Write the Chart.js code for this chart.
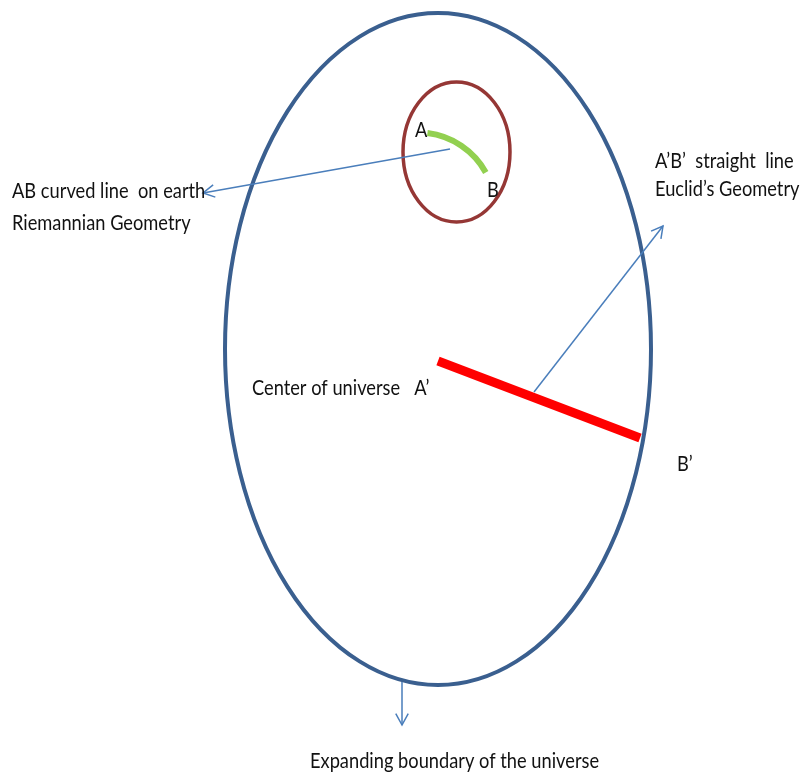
<!DOCTYPE html>
<html>
<head>
<meta charset="utf-8">
<script src="https://cdn.jsdelivr.net/npm/chart.js@4/dist/chart.umd.min.js"></script>
<style>
  html, body { margin: 0; padding: 0; background: #fff; }
  canvas { display: block; }
</style>
</head>
<body>
<canvas id="diagram" width="803" height="780"></canvas>
<script>
// ellipses: [cx, cy, rx, ry]
const universeEllipse = [438, 349, 213, 336];
const earthCircle = [456.5, 152, 53.5, 70];

// green arc AB on earth: [cx, cy, r, startDeg, endDeg]
const earthArc = [418, 210, 77.5, -83, -29];

// straight line A'B'
const lineAB = [{ x: 438, y: 361 }, { x: 640, y: 438 }];

// arrows (tail -> tip)
const arrowRiemann = [{ x: 450, y: 149 }, { x: 203, y: 193 }];
const arrowEuclid = [{ x: 534, y: 392 }, { x: 663, y: 226 }];
const arrowExpand = [{ x: 402, y: 682 }, { x: 402, y: 725 }];

// labels: [text, x, baseline y]
const labelTexts = ["A", "B", "AB curved line  on earth", "Riemannian Geometry",
    "A\u2019B\u2019  straight  line", "Euclid\u2019s Geometry", "Center of universe   A\u2019",
    "B\u2019", "Expanding boundary of the universe"];
const labelX = [415, 487, 12, 12, 655, 655, 252, 677, 310];
const labelY = [137, 197, 198, 230, 168, 196, 395, 471, 768];

const shapesPlugin = {
    id: "shapes",
    beforeDatasetsDraw(chart) {
        const ctx = chart.ctx;
        const xs = chart.scales.x, ys = chart.scales.y;

        function ellipse(e, color, width) {
            const cx = xs.getPixelForValue(e[0]);
            const cy = ys.getPixelForValue(e[1]);
            const rx = Math.abs(xs.getPixelForValue(e[0] + e[2]) - cx);
            const ry = Math.abs(ys.getPixelForValue(e[1] + e[3]) - cy);
            ctx.beginPath();
            ctx.ellipse(cx, cy, rx, ry, 0, 0, Math.PI * 2);
            ctx.strokeStyle = color;
            ctx.lineWidth = width;
            ctx.stroke();
        }

        ctx.save();
        ellipse(universeEllipse, "#3a5f8f", 4);
        ellipse(earthCircle, "#953735", 3.5);

        // arc AB
        const acx = xs.getPixelForValue(earthArc[0]);
        const acy = ys.getPixelForValue(earthArc[1]);
        const ar = Math.abs(xs.getPixelForValue(earthArc[0] + earthArc[2]) - acx);
        ctx.beginPath();
        ctx.arc(acx, acy, ar, earthArc[3] * Math.PI / 180, earthArc[4] * Math.PI / 180, false);
        ctx.strokeStyle = "#92d050";
        ctx.lineWidth = 6;
        ctx.lineCap = "butt";
        ctx.stroke();
        ctx.restore();
    },
    afterDatasetsDraw(chart) {
        const ctx = chart.ctx;
        const xs = chart.scales.x, ys = chart.scales.y;
        ctx.save();
        chart.data.datasets.forEach((ds) => {
            if (!ds.arrow) return;
            const p0 = ds.data[ds.data.length - 2], p1 = ds.data[ds.data.length - 1];
            const x0 = xs.getPixelForValue(p0.x), y0 = ys.getPixelForValue(p0.y);
            const x1 = xs.getPixelForValue(p1.x), y1 = ys.getPixelForValue(p1.y);
            const a = Math.atan2(y1 - y0, x1 - x0);
            const len = 13, spread = 0.5;
            ctx.beginPath();
            ctx.moveTo(x1 - len * Math.cos(a - spread), y1 - len * Math.sin(a - spread));
            ctx.lineTo(x1, y1);
            ctx.lineTo(x1 - len * Math.cos(a + spread), y1 - len * Math.sin(a + spread));
            ctx.strokeStyle = ds.borderColor;
            ctx.lineWidth = ds.borderWidth;
            ctx.lineJoin = "miter";
            ctx.stroke();
        });
        ctx.restore();
    },
    afterDraw(chart) {
        const ctx = chart.ctx;
        const xs = chart.scales.x, ys = chart.scales.y;
        ctx.save();
        ctx.fillStyle = "#111";
        ctx.font = "22px Lato";
        ctx.textBaseline = "alphabetic";
        labelTexts.forEach((t, i) => {
            ctx.save();
            ctx.translate(xs.getPixelForValue(labelX[i]), ys.getPixelForValue(labelY[i]));
            ctx.scale(0.83, 1);
            ctx.fillText(t, 0, 0);
            ctx.restore();
        });
        ctx.restore();
    }
};

const lineStyle = { showLine: true, pointRadius: 0, pointHoverRadius: 0, fill: false };

new Chart(document.getElementById("diagram").getContext("2d"), {
    type: "scatter",
    data: {
        datasets: [
            { ...lineStyle, data: lineAB, borderColor: "#ff0000", borderWidth: 9, borderCapStyle: "butt" },
            { ...lineStyle, data: arrowRiemann, borderColor: "#4a7ebb", borderWidth: 1.5, arrow: true },
            { ...lineStyle, data: arrowEuclid, borderColor: "#4a7ebb", borderWidth: 1.5, arrow: true },
            { ...lineStyle, data: arrowExpand, borderColor: "#4a7ebb", borderWidth: 1.5, arrow: true },
        ],
    },
    options: {
        responsive: false,
        animation: false,
        layout: { padding: 0 },
        plugins: { legend: { display: false }, tooltip: { enabled: false } },
        scales: {
            x: { type: "linear", min: 0, max: 803, display: false },
            y: { type: "linear", min: 0, max: 780, reverse: true, display: false },
        },
    },
    plugins: [shapesPlugin],
});
</script>
</body>
</html>
